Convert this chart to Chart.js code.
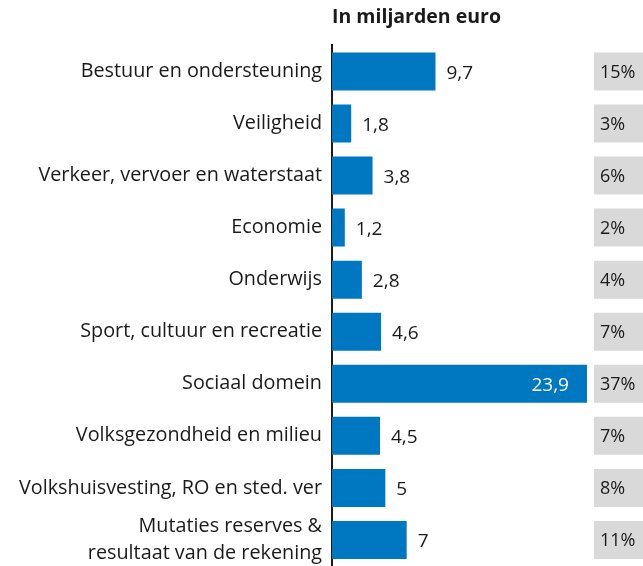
<!DOCTYPE html>
<html>
<head>
<meta charset="utf-8">
<script src="https://cdn.jsdelivr.net/npm/chart.js@4.4.1/dist/chart.umd.min.js"></script>
<style>
  html, body { margin: 0; padding: 0; background: #fff; }
  #wrap { width: 643px; height: 566px; position: relative; }
</style>
</head>
<body>
<div id="wrap"><canvas id="chart"></canvas></div>
<script>
const categories = [
  "Bestuur en ondersteuning",
  "Veiligheid",
  "Verkeer, vervoer en waterstaat",
  "Economie",
  "Onderwijs",
  "Sport, cultuur en recreatie",
  "Sociaal domein",
  "Volksgezondheid en milieu",
  "Volkshuisvesting, RO en sted. ver",
  ["Mutaties reserves &", "resultaat van de rekening"],
];
const amounts = [9.7, 1.8, 3.8, 1.2, 2.8, 4.6, 23.9, 4.5, 5, 7];
const shares = [15, 3, 6, 2, 4, 7, 37, 7, 8, 11];
const TITLE = "In miljarden euro";

const BLUE = "#0078c1";
const GREY = "#d9d9d9";
const INK = "#1a1a1a";
const FONT = "'Open Sans', sans-serif";
const X_MAX = 29.15;     // scale runs past the share boxes to the canvas edge
const BOX_START = 24.55; // share boxes start here on the value scale

const fmtNum = (v) => String(v).replace(".", ",");

const labelPlugin = {
  id: "labels",
  afterDatasetsDraw(chart) {
    const ctx = chart.ctx;
    ctx.save();
    ctx.textBaseline = "middle";

    // share percentages in the grey boxes
    ctx.font = `18px ${FONT}`;
    chart.getDatasetMeta(0).data.forEach((el, i) => {
      ctx.fillStyle = INK;
      ctx.textAlign = "left";
      ctx.fillText(`${shares[i]}%`, el.base + 6, el.y + 1);
    });

    // amounts next to (or inside) the blue bars
    ctx.font = `19px ${FONT}`;
    chart.getDatasetMeta(1).data.forEach((el, i) => {
      const v = amounts[i];
      if (v > 20) {
        ctx.fillStyle = "#fff";
        ctx.textAlign = "right";
        ctx.fillText(fmtNum(v), el.x - 18, el.y + 2);
      } else {
        ctx.fillStyle = INK;
        ctx.textAlign = "left";
        ctx.fillText(fmtNum(v), el.x + 11, el.y + 2);
      }
    });
    ctx.restore();
  },
};

new Chart(document.getElementById("chart"), {
  type: "bar",
  data: {
    labels: categories,
    datasets: [
      {
        label: "aandeel",
        data: shares.map(() => [BOX_START, X_MAX]),
        backgroundColor: GREY,
        grouped: false,
        borderWidth: 0,
      },
      {
        label: "miljarden euro",
        data: amounts,
        backgroundColor: BLUE,
        grouped: false,
        borderWidth: 0,
      },
    ],
  },
  options: {
    indexAxis: "y",
    responsive: true,
    maintainAspectRatio: false,
    animation: false,
    categoryPercentage: 1,
    barPercentage: 0.73,
    layout: { padding: { bottom: -1 } },
    scales: {
      x: {
        position: "top",
        min: 0,
        max: X_MAX,
        ticks: { display: false },
        grid: { display: false, drawTicks: false },
        border: { display: false },
        title: {
          display: true,
          text: TITLE,
          align: "start",
          color: INK,
          font: { family: FONT, size: 19.5, weight: "bold" },
          padding: { top: 6, bottom: 16 },
        },
      },
      y: {
        position: "left",
        afterFit: (s) => { s.width = 332; s.paddingTop = 0; s.paddingBottom = 0; },
        ticks: {
          autoSkip: false,
          color: INK,
          padding: 10,
          font: { family: FONT, size: 19.8, lineHeight: 1.4 },
        },
        grid: { display: false, drawTicks: false },
        border: { display: true, color: INK, width: 2 },
      },
    },
    plugins: {
      legend: { display: false },
      tooltip: { enabled: false },
    },
  },
  plugins: [labelPlugin],
});
</script>
</body>
</html>
